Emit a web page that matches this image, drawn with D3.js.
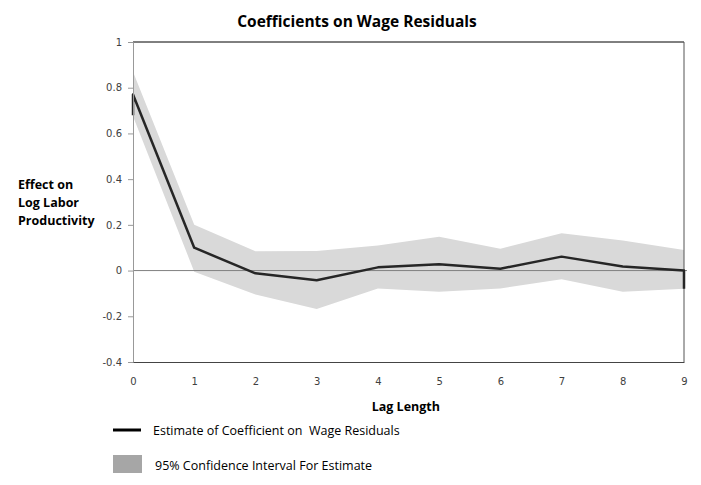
<!DOCTYPE html>
<meta charset="utf-8">
<style>
body { margin: 0; background: #fff; }
.tick text { font-family: "DejaVu Sans", Verdana, sans-serif; font-size: 10px; fill: #404040; }
.lbl { font-family: "Open Sans", sans-serif; fill: #000; }
</style>
<svg width="701" height="485"></svg>
<script src="https://d3js.org/d3.v7.min.js"></script>
<script>

// lag lengths and values
var lags = [0, 1, 2, 3, 4, 5, 6, 7, 8, 9];
var estimate = [0.77, 0.10, -0.012, -0.042, 0.014, 0.028, 0.008, 0.061, 0.018, 0.0];
var upperCI = [0.87, 0.20, 0.084, 0.086, 0.11, 0.148, 0.096, 0.163, 0.132, 0.09];
var lowerCI = [0.675, -0.005, -0.105, -0.168, -0.078, -0.093, -0.078, -0.038, -0.093, -0.08];
var yTicks = [-0.4, -0.2, 0, 0.2, 0.4, 0.6, 0.8, 1];
// the original line starts and ends with short vertical drops
var startDrop = 0.68, endDrop = -0.08;

var svg = d3.select("svg"),
    margin = {top: 42, right: 17, bottom: 123, left: 133},
    width = +svg.attr("width") - margin.left - margin.right,
    height = +svg.attr("height") - margin.top - margin.bottom;

var x = d3.scaleLinear().domain([0, 9]).range([0, width]),
    y = d3.scaleLinear().domain([-0.4, 1]).range([height, 0]);

var g = svg.append("g")
    .attr("transform", "translate(" + margin.left + "," + margin.top + ")");

var data = lags.map(function(d, i) {
    return {lag: d, est: estimate[i], hi: upperCI[i], lo: lowerCI[i]};
});

// confidence band
g.append("path")
    .datum(data)
    .attr("fill", "#d9d9d9")
    .attr("d", d3.area()
        .x(function(d) { return x(d.lag); })
        .y0(function(d) { return y(d.lo); })
        .y1(function(d) { return y(d.hi); }));

// zero line
g.append("line")
    .attr("x1", 0).attr("x2", width + 3)
    .attr("y1", y(0)).attr("y2", y(0))
    .attr("stroke", "#808080").attr("stroke-width", 1);

// frame
g.append("line").attr("x1", 0).attr("x2", width).attr("y1", 0).attr("y2", 0)
    .attr("stroke", "#000").attr("stroke-width", 1);
g.append("line").attr("x1", width).attr("x2", width).attr("y1", 0).attr("y2", height)
    .attr("stroke", "#555").attr("stroke-width", 1);

// estimate line
var linePts = [{lag: 0, est: startDrop}].concat(data, [{lag: 9, est: endDrop}]);
g.append("path")
    .datum(linePts)
    .attr("fill", "none")
    .attr("stroke", "#262626")
    .attr("stroke-width", 2.5)
    .attr("stroke-linejoin", "round")
    .attr("d", d3.line()
        .x(function(d) { return x(d.lag); })
        .y(function(d) { return y(d.est); }));

// axes
var yAxis = g.append("g")
    .call(d3.axisLeft(y).tickValues(yTicks).tickSize(5).tickPadding(6)
        .tickFormat(function(d) { return String(+d.toFixed(1)); }));
yAxis.select(".domain").attr("stroke", "#999");
yAxis.selectAll(".tick line").attr("stroke", "#999");

var xAxis = g.append("g")
    .attr("transform", "translate(0," + height + ")")
    .call(d3.axisBottom(x).tickValues(lags).tickSize(0).tickPadding(16));
xAxis.select(".domain").attr("stroke", "#444");

// titles
svg.append("text")
    .attr("class", "lbl")
    .attr("x", 357).attr("y", 27)
    .attr("text-anchor", "middle")
    .style("font-size", "15.5px").style("font-weight", "bold")
    .text("Coefficients on Wage Residuals");

var yt = svg.append("text")
    .attr("class", "lbl")
    .style("font-size", "12.5px").style("font-weight", "bold");
["Effect on", "Log Labor", "Productivity"].forEach(function(t, i) {
    yt.append("tspan").attr("x", 18).attr("y", 189 + i * 18).text(t);
});

svg.append("text")
    .attr("class", "lbl")
    .attr("x", 440).attr("y", 411)
    .attr("text-anchor", "end")
    .style("font-size", "12.5px").style("font-weight", "bold")
    .text("Lag Length");

// legend
svg.append("line")
    .attr("x1", 113).attr("x2", 141).attr("y1", 430).attr("y2", 430)
    .attr("stroke", "#000").attr("stroke-width", 3);
svg.append("text")
    .attr("class", "lbl")
    .attr("x", 153).attr("y", 435)
    .style("font-size", "12.5px")
    .style("white-space", "pre")
    .attr("xml:space", "preserve")
    .text("Estimate of Coefficient on  Wage Residuals");

svg.append("rect")
    .attr("x", 113).attr("y", 455).attr("width", 29).attr("height", 18)
    .attr("fill", "#a6a6a6");
svg.append("text")
    .attr("class", "lbl")
    .attr("x", 155).attr("y", 470)
    .style("font-size", "12.5px")
    .text("95% Confidence Interval For Estimate");

</script>
